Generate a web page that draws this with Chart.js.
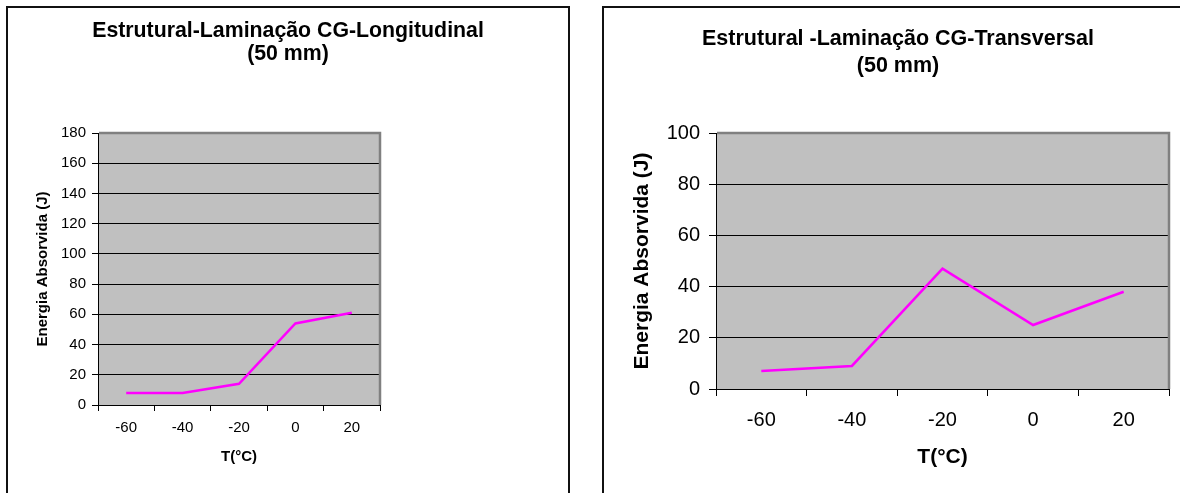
<!DOCTYPE html>
<html>
<head>
<meta charset="utf-8">
<script src="https://cdn.jsdelivr.net/npm/chart.js"></script>
<style>
body { margin: 0; background: #fff; width: 1180px; height: 493px; overflow: hidden; position: relative; font-family: 'Liberation Sans', Arial, sans-serif; }
.box { position: absolute; top: 6px; height: 500px; border: 2px solid #111; border-bottom: none; background: #fff; }
#box1 { left: 6px; width: 560px; }
#box2 { left: 602px; width: 600px; }
.title { position: absolute; font-weight: bold; text-align: center; color: #000; white-space: nowrap; z-index: 2; }
#t1 { left: 88px; width: 400px; top: 18.5px; font-size: 21.3px; line-height: 23px; }
#t2 { left: 698px; width: 400px; top: 25px; font-size: 21.5px; line-height: 27px; }
canvas { position: absolute; top: 0; z-index: 1; }
#c1 { left: 0; }
#c2 { left: 585px; }
</style>
</head>
<body>
<div class="box" id="box1"></div>
<div class="box" id="box2"></div>
<div class="title" id="t1">Estrutural-Laminação CG-Longitudinal<br>(50 mm)</div>
<div class="title" id="t2">Estrutural -Laminação CG-Transversal<br>(50 mm)</div>
<canvas id="c1" width="585" height="493"></canvas>
<canvas id="c2" width="595" height="493"></canvas>
<script>
// temperaturas (categorias) e energia absorvida
const temps = ['-60', '-40', '-20', '0', '20'];
const energiaLong = [8, 8, 14, 54, 61];
const energiaTrans = [7, 9, 47, 25, 38];
const yMaxLong = 180;
const yMaxTrans = 100;
const yStep = 20;

Chart.defaults.font.family = "'Liberation Sans', Arial, sans-serif";
Chart.defaults.color = '#000';

// fundo cinza da area de plotagem + borda cinza em cima/direita
const plotFrame = {
    id: 'plotFrame',
    beforeDraw(chart) {
        const { ctx, chartArea: a } = chart;
        ctx.save();
        ctx.fillStyle = '#C0C0C0';
        ctx.fillRect(a.left, a.top, a.right - a.left, a.bottom - a.top);
        ctx.restore();
    },
    afterDatasetsDraw(chart) {
        const { ctx, chartArea: a } = chart;
        ctx.save();
        ctx.strokeStyle = '#808080';
        ctx.lineWidth = 2.5;
        ctx.beginPath();
        ctx.moveTo(a.left + 1, a.top);
        ctx.lineTo(a.right, a.top);
        ctx.lineTo(a.right, a.bottom);
        ctx.stroke();
        ctx.restore();
    }
};

function makeChart(id, values, yMax, o) {
    return new Chart(document.getElementById(id), {
        type: 'line',
        data: {
            labels: temps,
            datasets: [{
                data: values,
                borderColor: '#FF00FF',
                borderWidth: 2.5,
                pointRadius: 0,
                tension: 0,
                fill: false
            }]
        },
        options: {
            responsive: false,
            animation: false,
            layout: { padding: o.pad },
            plugins: { legend: { display: false }, tooltip: { enabled: false } },
            scales: {
                x: {
                    offset: true,
                    grid: { offset: true, drawOnChartArea: false, drawTicks: true, tickLength: o.tick, tickColor: '#000', color: '#000' },
                    border: { color: '#000', width: 1 },
                    ticks: { color: '#000', font: { size: o.tickFont }, padding: o.xPad, maxRotation: 0 },
                    title: { display: true, text: 'T(°C)', color: '#000', font: { size: o.titleFont, weight: 'bold' }, padding: { top: 0, bottom: o.xTitlePad } },
                    afterFit(s) { s.height = o.xH; }
                },
                y: {
                    min: 0,
                    max: yMax,
                    ticks: { stepSize: yStep, color: '#000', font: { size: o.tickFont }, padding: o.yPad },
                    grid: { color: '#000', tickLength: o.tick, tickColor: '#000' },
                    border: { color: '#000', width: 1 },
                    title: { display: true, text: 'Energia Absorvida (J)', color: '#000', font: { size: o.titleFont, weight: 'bold' }, padding: { top: o.yTitlePad, bottom: 0 } },
                    afterFit(s) { s.width = o.yW; }
                }
            }
        },
        plugins: [plotFrame]
    });
}

makeChart('c1', energiaLong, yMaxLong, {
    pad: { left: 34, right: 205, top: 133, bottom: 18 },
    yW: 64, xH: 70, tick: 6, tickFont: 15, titleFont: 15,
    xPad: 8, yPad: 6, xTitlePad: 9, yTitlePad: 0
});
makeChart('c2', energiaTrans, yMaxTrans, {
    pad: { left: 40, right: 11, top: 133, bottom: 4 },
    yW: 91, xH: 100, tick: 7, tickFont: 20, titleFont: 21,
    xPad: 12, yPad: 9, xTitlePad: 19, yTitlePad: 5
});
</script>
</body>
</html>
